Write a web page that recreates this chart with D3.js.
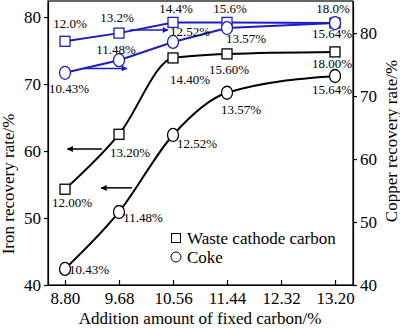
<!DOCTYPE html>
<html><head><meta charset="utf-8">
<script src="https://cdn.jsdelivr.net/npm/d3@7"></script>
<style>body{margin:0;background:#fff}svg,svg text{font-family:"Liberation Serif","DejaVu Serif","Times New Roman",serif}</style>
</head><body><svg id="c" width="400" height="328"></svg>
<script>
const carbon = [8.80, 9.68, 10.56, 11.44, 13.20];
const xTicks = [8.80, 9.68, 10.56, 11.44, 12.32, 13.20];
const leftTicks = [40, 50, 60, 70, 80];
const rightTicks = [40, 50, 60, 70, 80];
const ironCathode = [54.3, 62.5, 73.9, 74.5, 74.8];
const ironCoke = [42.4, 50.9, 62.4, 68.7, 71.2];
const copperCathode = [78.7, 80.0, 81.7, 81.7, 81.6];
const copperCoke = [73.7, 75.7, 78.6, 80.8, 81.6];
const cathodeLabelsIron = ["12.00%", "13.20%", "14.40%", "15.60%", "18.00%"];
const cokeLabelsIron = ["10.43%", "11.48%", "12.52%", "13.57%", "15.64%"];
const cathodeLabelsCu = ["12.0%", "13.2%", "14.4%", "15.6%", "18.0%"];
const cokeLabelsCu = ["10.43%", "11.48%", "12.52%", "13.57%", "15.64%"];
const legendNames = ["Waste cathode carbon", "Coke"];
// arrows: [x1, x2, y] in data units
const ironArrows = [[9.40, 8.84, 60.3], [9.89, 9.39, 54.5]];
const copperArrows = [[9.86, 10.48, 80.5], [9.09, 9.81, 74.4]];

const FONT = "Liberation Serif, DejaVu Serif, serif";
const svg = d3.select("#c").attr("font-family", FONT);
const L = 48, R = 353, T = 1, B = 285;
const BLUE = "#1c1cc4";
const x = d3.scaleLinear().domain([8.523, 13.493]).range([L, R]);
const yL = d3.scaleLinear().domain([40, 82.4]).range([B, T]);
const yR = d3.scaleLinear().domain([40, 85.1]).range([B, T]);

svg.append("defs").selectAll("marker").data([["ab", "#000"], ["ablue", BLUE]]).join("marker")
  .attr("id", d => d[0]).attr("viewBox", "0 0 10 10").attr("refX", 9).attr("refY", 5)
  .attr("markerWidth", 7).attr("markerHeight", 6).attr("markerUnits", "userSpaceOnUse").attr("orient", "auto")
  .append("path").attr("d", "M0,0L10,5L0,10Z").attr("fill", d => d[1]);

svg.append("rect").attr("x", L).attr("y", T).attr("width", R - L).attr("height", B - T)
  .attr("fill", "none").attr("stroke", "#000").attr("stroke-width", 1.2);

const ax = svg.append("g").attr("transform", `translate(0,${B})`)
  .call(d3.axisBottom(x).tickValues(xTicks).tickFormat(d3.format(".2f")).tickSizeInner(-5).tickSizeOuter(0).tickPadding(7));
const al = svg.append("g").attr("transform", `translate(${L},0)`)
  .call(d3.axisLeft(yL).tickValues(leftTicks).tickSizeInner(4).tickSizeOuter(0).tickPadding(3));
const ar = svg.append("g").attr("transform", `translate(${R},0)`)
  .call(d3.axisRight(yR).tickValues(rightTicks).tickSizeInner(4).tickSizeOuter(0).tickPadding(3));
[ax, al, ar].forEach(g => {
  g.attr("font-family", FONT);
  g.select(".domain").attr("stroke", "#000").attr("stroke-width", 1.2);
  g.selectAll(".tick line").attr("stroke", "#000").attr("stroke-width", 1.2);
  g.selectAll("text").attr("font-size", 17).attr("fill", "#000").attr("font-family", FONT);
});

svg.append("text").attr("x", 200).attr("y", 324).attr("text-anchor", "middle").attr("font-size", 17)
  .text("Addition amount of fixed carbon/%");
svg.append("text").attr("transform", "translate(14,184) rotate(-90)").attr("text-anchor", "middle").attr("font-size", 17)
  .text("Iron recovery rate/%");
svg.append("text").attr("transform", "translate(397,141) rotate(-90)").attr("text-anchor", "middle").attr("font-size", 17)
  .text("Copper recovery rate/%");

function series(vals, y, color, curve, shape, labels, offs) {
  const pts = carbon.map((c, i) => [x(c), y(vals[i])]);
  svg.append("path").attr("d", d3.line().curve(curve)(pts)).attr("fill", "none")
    .attr("stroke", color).attr("stroke-width", 2);
  const g = svg.append("g");
  pts.forEach(p => {
    if (shape === "sq") g.append("rect").attr("x", p[0] - 5).attr("y", p[1] - 5).attr("width", 10).attr("height", 10)
      .attr("fill", "#fff").attr("stroke", color).attr("stroke-width", 1.3);
    else g.append("ellipse").attr("cx", p[0]).attr("cy", p[1]).attr("rx", 5.5).attr("ry", 6.5)
      .attr("fill", "#fff").attr("stroke", color).attr("stroke-width", 1.3);
  });
  pts.forEach((p, i) => {
    svg.append("text").attr("x", p[0] + offs[i][0]).attr("y", p[1] + offs[i][1])
      .attr("text-anchor", "middle").attr("font-size", 13).attr("fill", "#000").text(labels[i]);
  });
}

series(ironCathode, yL, "#000", d3.curveMonotoneX, "sq", cathodeLabelsIron,
  [[7, 18], [11, 23], [17, 26], [2, 20], [-3, 16]]);
series(ironCoke, yL, "#000", d3.curveMonotoneX, "ci", cokeLabelsIron,
  [[24, 5], [24, 10], [24, 13], [14, 21], [-3, 18]]);
series(copperCathode, yR, BLUE, d3.curveLinear, "sq", cathodeLabelsCu,
  [[5, -13], [-2, -11], [3, -9], [3, -9], [-2, -10]]);
series(copperCoke, yR, BLUE, d3.curveLinear, "ci", cokeLabelsCu,
  [[4, 20], [-3, -6], [17, -6], [19, 15], [-3, 15]]);

ironArrows.forEach(a => svg.append("line").attr("x1", x(a[0])).attr("x2", x(a[1])).attr("y1", yL(a[2])).attr("y2", yL(a[2]))
  .attr("stroke", "#000").attr("stroke-width", 1.5).attr("marker-end", "url(#ab)"));
copperArrows.forEach(a => svg.append("line").attr("x1", x(a[0])).attr("x2", x(a[1])).attr("y1", yR(a[2])).attr("y2", yR(a[2]))
  .attr("stroke", BLUE).attr("stroke-width", 1.5).attr("marker-end", "url(#ablue)"));

const lg = svg.append("g").attr("transform", "translate(176,238)");
lg.append("rect").attr("x", -4.5).attr("y", -4.5).attr("width", 9).attr("height", 9).attr("fill", "#fff").attr("stroke", "#000").attr("stroke-width", 1);
lg.append("circle").attr("cx", 0).attr("cy", 19).attr("r", 5).attr("fill", "#fff").attr("stroke", "#000").attr("stroke-width", 1);
lg.selectAll("text").data(legendNames).join("text").attr("x", 11).attr("y", (d, i) => 6 + i * 19)
  .attr("font-size", 17).text(d => d);
</script></body></html>
